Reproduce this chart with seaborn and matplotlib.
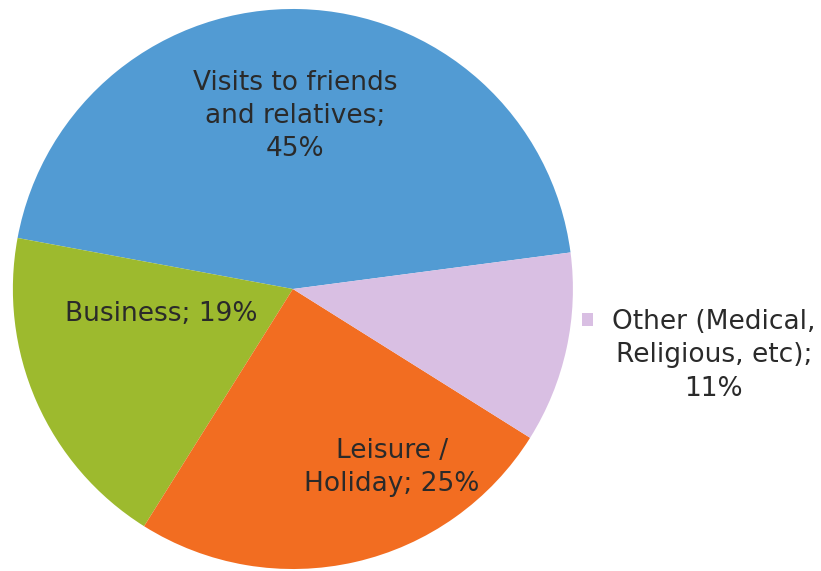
import matplotlib
matplotlib.use("Agg")
import matplotlib.pyplot as plt
from matplotlib.patches import Patch
import seaborn as sns

# Purpose of visit shares (%)
categories = ["Visits to friends\nand relatives", "Business", "Leisure /\nHoliday", "Other (Medical,\nReligious, etc)"]
shares = [45, 19, 25, 11]
colors = ["#529bd3", "#9dba2e", "#f26d21", "#d9bfe3"]

sns.set_theme(style="white")
plt.rcParams["font.family"] = ["DejaVu Sans"]

fig = plt.figure(figsize=(8.21, 5.71), dpi=100)
ax = fig.add_axes([0, 0, 1, 1])

wedges, _ = ax.pie(shares, colors=colors, startangle=7.5, counterclock=True,
                   radius=1.0, wedgeprops=dict(linewidth=0))

ax.set_xlim(-1.046, 1.886)
ax.set_ylim(-1.007, 1.032)
ax.axis("off")

text_color = "#2a2a2a"
fs = 19
ls = 1.37

# In-slice labels for the first three categories
label_pos = [(0.007, 0.618), (-0.470, -0.089), (0.354, -0.638)]
label_text = [
    f"{categories[0]};\n{shares[0]}%",
    f"{categories[1]}; {shares[1]}%",
    f"{categories[2]}; {shares[2]}%",
]
for (x, y), s in zip(label_pos, label_text):
    ax.text(x, y, s, ha="center", va="center", fontsize=fs, color=text_color,
            linespacing=ls)

# Legend entry for the small slice
leg = ax.legend(handles=[Patch(facecolor=colors[3], edgecolor="none")],
                labels=[f"{categories[3]};\n{shares[3]}%"],
                loc="center left", bbox_to_anchor=(0.709, 0.378),
                bbox_transform=fig.transFigure, frameon=False, fontsize=fs,
                handlelength=0.42, handleheight=0.42, handletextpad=0.72,
                borderpad=0, borderaxespad=0, labelcolor=text_color)
for t in leg.get_texts():
    t.set_multialignment("center")
    t.set_linespacing(ls)
h = leg.legend_handles[0]
h.set_y(h.get_y() + 26)

fig.savefig("out.png", dpi=100)
